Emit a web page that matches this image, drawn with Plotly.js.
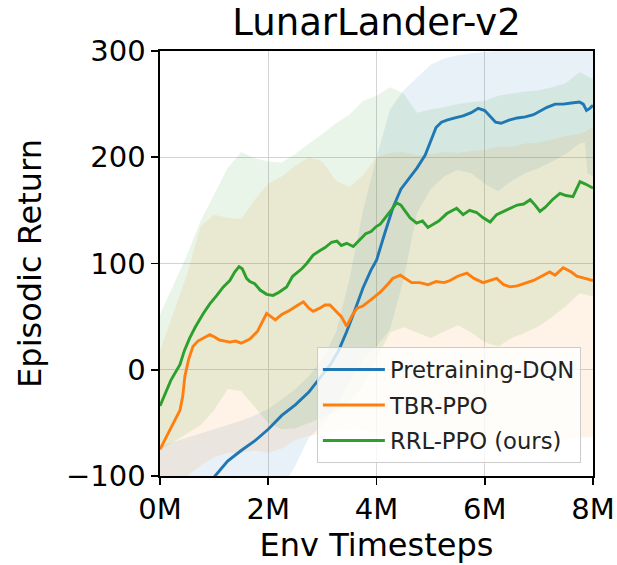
<!DOCTYPE html>
<html>
<head>
<meta charset="utf-8">
<script src="https://cdn.plot.ly/plotly-3.0.1.min.js"></script>
<style>html,body{margin:0;padding:0;background:#fff;}#chart{width:617px;height:565px;}</style>
</head>
<body>
<div id="chart"></div>
<script>
// ---- data (timesteps in millions) ----
const seriesNames = ["Pretraining-DQN", "TBR-PPO", "RRL-PPO (ours)"];
const xTickVals = [0, 2, 4, 6, 8];
const xTickText = ["0M", "2M", "4M", "6M", "8M"];

const dqnT = [0,0.25,0.5,0.75,1.0,1.25,1.5,1.75,2.0,2.25,2.5,2.75,3.0,3.15,3.3,3.45,3.6,3.75,3.9,4.0,4.15,4.3,4.45,4.6,4.75,4.9,5.0,5.1,5.2,5.3,5.45,5.6,5.75,5.88,6.0,6.1,6.2,6.3,6.45,6.6,6.75,6.9,7.0,7.15,7.3,7.45,7.6,7.75,7.82,7.88,7.94,8.0];
const dqnMean = [-170,-155,-138,-120,-101,-86,-76,-67,-56,-43,-33,-21,-5,5,18,36,56,77,94,103,128,152,170,180,190,202,215,228,233,235,237,239,242,246,244,238,233,232,235,237,238,240,243,247,250,250,251,252,250,244,246,249];

const tbrT = [0,0.1,0.18,0.28,0.37,0.42,0.46,0.53,0.61,0.7,0.8,0.92,1.0,1.1,1.2,1.29,1.4,1.5,1.66,1.8,1.9,1.97,2.05,2.13,2.25,2.4,2.55,2.65,2.75,2.83,2.95,3.05,3.14,3.25,3.35,3.45,3.55,3.64,3.75,3.9,4.0,4.07,4.2,4.3,4.44,4.55,4.65,4.8,4.95,5.1,5.25,5.36,5.5,5.67,5.8,5.97,6.1,6.22,6.35,6.47,6.6,6.78,6.9,7.05,7.2,7.3,7.45,7.6,7.7,7.85,8.0];
const tbrMean = [-75,-65,-56,-46,-38,-25,-6,10,22,27,30,33,31,28,27,26,27,25,29,36,46,53,50,47,52,56,61,64,58,55,58,61,61,55,50,41,51,58,60,66,70,73,80,86,89,85,82,82,80,83,82,84,88,91,86,82,84,86,80,78,79,82,84,88,92,89,96,92,88,86,84];

const rrlT = [0,0.1,0.2,0.37,0.45,0.55,0.65,0.8,0.92,1.05,1.17,1.29,1.38,1.46,1.52,1.6,1.66,1.75,1.85,1.97,2.09,2.2,2.34,2.45,2.53,2.62,2.71,2.83,2.95,3.05,3.17,3.27,3.35,3.45,3.57,3.7,3.8,3.9,4.0,4.07,4.2,4.3,4.37,4.45,4.52,4.62,4.74,4.85,4.95,5.02,5.15,5.3,5.48,5.6,5.72,5.85,5.97,6.1,6.22,6.35,6.47,6.6,6.72,6.84,6.93,7.02,7.12,7.25,7.39,7.5,7.63,7.7,7.76,7.85,8.0];
const rrlMean = [-34,-22,-10,5,18,30,40,53,62,70,78,84,92,97,95,86,83,81,75,71,70,73,78,88,91,95,100,108,112,115,120,121,117,119,116,123,128,130,135,137,145,152,157,155,150,143,138,140,134,136,140,147,152,146,150,148,143,139,146,149,152,155,156,160,155,149,153,160,166,164,163,170,177,175,171];

// shaded bands
const bandT = [0,0.25,0.5,0.75,1.0,1.25,1.5,1.75,2.0,2.25,2.5,2.75,3.0,3.25,3.5,3.75,4.0,4.25,4.5,4.75,5.0,5.25,5.5,5.75,6.0,6.25,6.5,6.75,7.0,7.25,7.5,7.75,7.85,7.9,8.0];
const dqnUpper = [-72,-68,-64,-60,-56,-52,-48,-43,-37,-28,-18,-6,10,35,85,150,200,245,263,275,287,293,296,298,299,300,301,302,302,302,302,305,307,308,310];
const dqnLower = [-260,-250,-235,-220,-200,-185,-165,-145,-130,-112,-90,-64,-52,-35,-12,10,22,38,85,148,170,182,188,185,175,168,178,185,190,196,203,213,214,185,182];
const tbrUpper = [18,55,90,135,146,143,142,160,175,182,192,200,196,178,172,183,200,204,205,202,203,205,204,206,207,210,210,213,214,217,220,222,224,226,228];
const tbrLower = [-110,-105,-100,-90,-82,-78,-78,-76,-78,-74,-66,-62,-60,-58,-56,-56,-60,-65,-70,-70,-70,-70,-70,-70,-70,-70,-70,-68,-68,-66,-65,-64,-63,-63,-63];
const rrlUpper = [52,80,108,140,165,190,205,199,196,195,203,213,222,232,240,253,258,266,260,242,245,247,250,252,253,258,260,262,263,266,270,280,278,276,274];
const rrlLower = [-75,-68,-60,-52,-38,-18,-20,-35,-50,-56,-55,-50,-45,-40,-30,-15,10,35,40,35,30,36,42,35,26,22,30,35,41,50,60,72,71,70,69];

const colors = ["#1f77b4", "#ff7f0e", "#2ca02c"];
const fills = ["rgba(31,119,180,0.1)", "rgba(255,127,14,0.1)", "rgba(44,160,44,0.1)"];

const bandsLo = [dqnLower, tbrLower, rrlLower];
const bandsHi = [dqnUpper, tbrUpper, rrlUpper];
const lineT = [dqnT, tbrT, rrlT];
const lineY = [dqnMean, tbrMean, rrlMean];

const traces = [];
for (let i = 0; i < 3; i++) {
  traces.push({x: bandT, y: bandsLo[i], type: "scatter", mode: "lines",
    line: {width: 0, color: colors[i]}, showlegend: false, hoverinfo: "skip"});
  traces.push({x: bandT, y: bandsHi[i], type: "scatter", mode: "lines",
    line: {width: 0, color: colors[i]}, fill: "tonexty", fillcolor: fills[i],
    showlegend: false, hoverinfo: "skip"});
}
for (let i = 0; i < 3; i++) {
  traces.push({x: lineT[i], y: lineY[i], type: "scatter", mode: "lines",
    name: seriesNames[i], legendgroup: "g" + i,
    line: {color: colors[i], width: 2.9}});
}

const font = "DejaVu Sans, sans-serif";
const layout = {
  width: 617, height: 565,
  margin: {l: 160, r: 24, t: 51, b: 89},
  paper_bgcolor: "#fff", plot_bgcolor: "#fff",
  font: {family: font, color: "#000"},
  title: {text: "LunarLander-v2", font: {size: 37, family: font, color: "#000"},
    x: 0.5, xref: "paper", xanchor: "center", y: 1, yref: "paper", yanchor: "bottom", pad: {b: 16}},
  xaxis: {
    range: [0, 8], tickvals: xTickVals, ticktext: xTickText,
    showline: true, mirror: true, linecolor: "#000", linewidth: 1.6,
    ticks: "outside", ticklen: 7, tickwidth: 1.6, tickcolor: "#000",
    showgrid: true, gridcolor: "#d3d3d3", gridwidth: 1.2, zeroline: false,
    tickfont: {size: 29, family: font},
    title: {text: "Env Timesteps", font: {size: 32, family: font}, standoff: 6}
  },
  yaxis: {
    range: [-100, 300], tickvals: [-100, 0, 100, 200, 300],
    showline: true, mirror: true, linecolor: "#000", linewidth: 1.6,
    ticks: "outside", ticklen: 7, tickwidth: 1.6, tickcolor: "#000",
    showgrid: true, gridcolor: "#d3d3d3", gridwidth: 1.2, zeroline: false,
    tickfont: {size: 29, family: font},
    title: {text: "Episodic Return", font: {size: 32, family: font}, standoff: 15}
  },
  legend: {
    x: 0.972, y: 0.03, xanchor: "right", yanchor: "bottom",
    bgcolor: "rgba(255,255,255,0.8)", bordercolor: "#cccccc", borderwidth: 1,
    font: {size: 22.7, family: font, color: "#222"}, tracegroupgap: 3, itemwidth: 62
  },
  showlegend: true
};

Plotly.newPlot("chart", traces, layout, {displayModeBar: false, staticPlot: true});
</script>
</body>
</html>
